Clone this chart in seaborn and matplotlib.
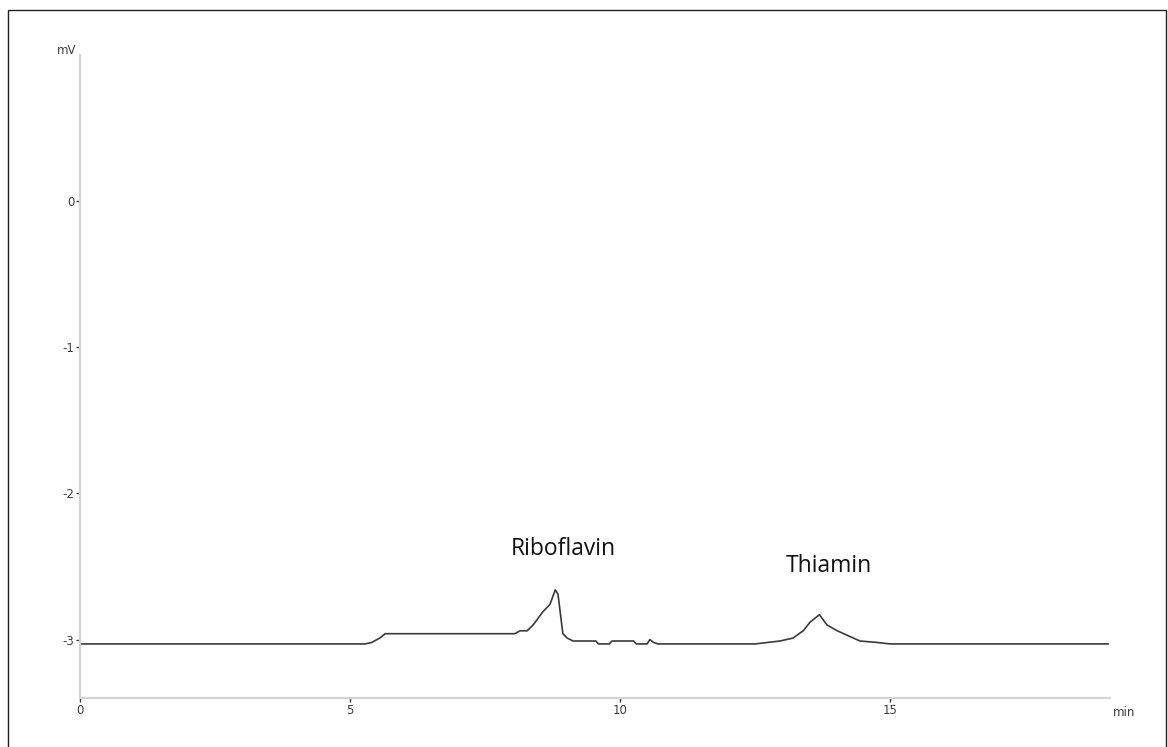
"""
plot.py

HPLC chromatogram (mV vs. min) with Riboflavin and Thiamin peaks.
"""

import matplotlib
matplotlib.use("Agg")
import matplotlib.pyplot as plt
from matplotlib.patches import Rectangle
import pandas as pd
import seaborn as sns

# ==========================================
# DATA
# ==========================================
time_min = [0.0, 1.0, 2.0, 3.0, 4.0, 5.0, 5.28, 5.40, 5.55, 5.65, 6.5, 7.5,
            8.05, 8.15, 8.28, 8.39, 8.57, 8.70, 8.76, 8.80, 8.85, 8.89, 8.94,
            9.02, 9.13, 9.55, 9.60, 9.80, 9.85, 10.25, 10.30, 10.50, 10.55,
            10.62, 10.70, 11.5, 12.5, 12.96, 13.20, 13.39, 13.52, 13.69, 13.83,
            14.02, 14.20, 14.44, 14.76, 15.0, 16.0, 17.0, 18.0, 19.04]
signal_mv = [-3.03, -3.03, -3.03, -3.03, -3.03, -3.03, -3.03, -3.02, -2.99,
             -2.96, -2.96, -2.96, -2.96, -2.94, -2.94, -2.90, -2.81, -2.76,
             -2.70, -2.66, -2.69, -2.81, -2.96, -2.99, -3.01, -3.01, -3.03,
             -3.03, -3.01, -3.01, -3.03, -3.03, -3.00, -3.02, -3.03, -3.03,
             -3.03, -3.01, -2.99, -2.94, -2.88, -2.83, -2.90, -2.94, -2.97,
             -3.01, -3.02, -3.03, -3.03, -3.03, -3.03, -3.03]

peak_names = ["Riboflavin", "Thiamin"]
peak_label_x = [8.94, 13.87]
peak_label_y = [-2.38, -2.50]

x_ticks = [0, 5, 10, 15]
y_ticks = [0, -1, -2, -3]


def main():
    sns.set_style("white")
    plt.rcParams["font.family"] = ["DejaVu Sans"]

    fig = plt.figure(figsize=(11.68, 7.47), dpi=100)
    ax = fig.add_axes([80 / 1168, 1 - 698 / 747, 1030 / 1168, 643 / 747])

    df = pd.DataFrame({"Time": time_min, "Signal": signal_mv})
    sns.lineplot(data=df, x="Time", y="Signal", ax=ax, color="#3a3a3a",
                 linewidth=1.2, sort=False)

    ax.set_xlim(0, 19.07)
    ax.set_ylim(-3.40, 1.0)
    ax.set_xticks(x_ticks)
    ax.set_yticks(y_ticks)
    ax.set_xticklabels([str(t) for t in x_ticks])
    ax.set_yticklabels([str(t) for t in y_ticks])
    ax.set_xlabel("")
    ax.set_ylabel("")

    # light grey axis lines, tiny dark tick marks
    for side in ["top", "right"]:
        ax.spines[side].set_visible(False)
    for side in ["left", "bottom"]:
        ax.spines[side].set_color("#d4d4d4")
        ax.spines[side].set_linewidth(1.6)
    ax.tick_params(axis="both", which="major", direction="out", length=3,
                   width=1.0, color="#333333", labelsize=8.5,
                   labelcolor="#3c3c3c", pad=1, left=True, bottom=True)

    # peak annotations
    for name, px, py in zip(peak_names, peak_label_x, peak_label_y):
        ax.text(px, py, name, ha="center", va="center", fontsize=16.5,
                family="Open Sans", color="#111111")

    # unit labels
    fig.text(67 / 1168, 1 - 50 / 747, "mV", ha="center", va="center",
             fontsize=8.5, color="#3c3c3c")
    fig.text(1124 / 1168, 1 - 713 / 747, "min", ha="center", va="center",
             fontsize=8.5, color="#3c3c3c")

    # outer frame around the whole figure
    fig.add_artist(Rectangle((8 / 1168, -0.01), (1166 - 8) / 1168,
                             (1 - 10 / 747) + 0.01,
                             transform=fig.transFigure, fill=False,
                             edgecolor="#222222", linewidth=1.0))

    fig.savefig("out.png", dpi=100, facecolor="white")
    plt.close(fig)


if __name__ == "__main__":
    main()
